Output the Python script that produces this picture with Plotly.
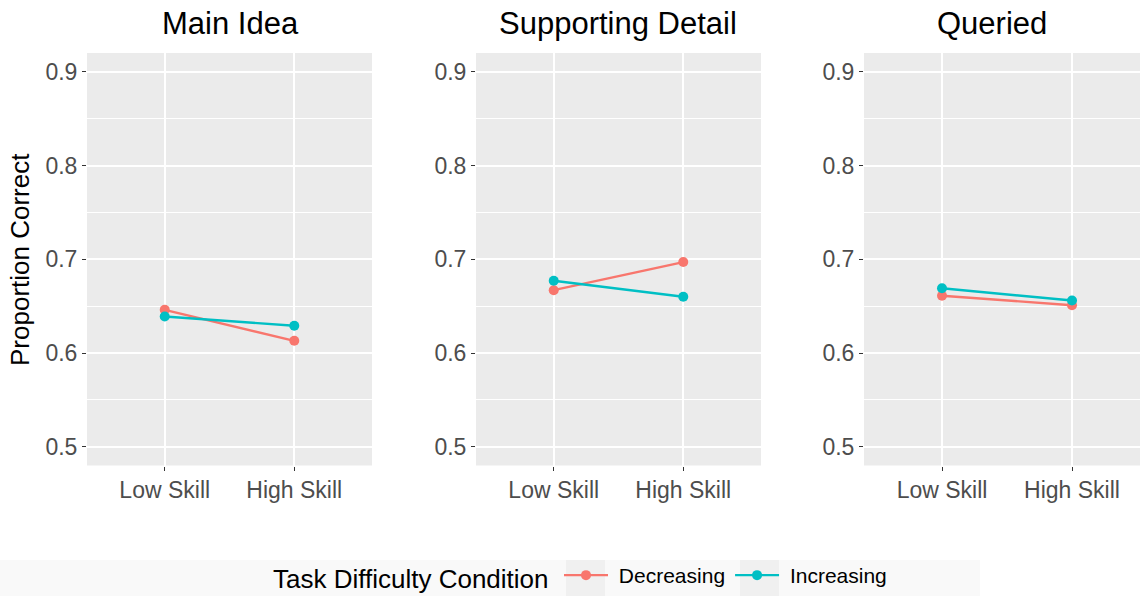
import plotly.graph_objects as go

W, H = 1140, 596

panels = ["Main Idea", "Supporting Detail", "Queried"]
skill = ["Low Skill", "High Skill"]
conditions = ["Decreasing", "Increasing"]
decreasing = [[0.646, 0.613], [0.667, 0.697], [0.661, 0.651]]
increasing = [[0.639, 0.629], [0.677, 0.660], [0.669, 0.656]]
y_ticks = [0.5, 0.6, 0.7, 0.8, 0.9]
colors = {"Decreasing": "#F8766D", "Increasing": "#00BFC4"}
legend_title = "Task Difficulty Condition"

values = {"Decreasing": decreasing, "Increasing": increasing}

fig = go.Figure()

# panel geometry in pixels
px_x = [(87, 372), (476, 761), (864, 1140)]
x_ranges = [[-0.6, 1.6], [-0.6, 1.6], [-0.6, 1.523]]
y_top, y_bot = 53, 465.5
title_cx = [230, 618, 992]

font_family = "Liberation Sans, Arial, sans-serif"

for i, name in enumerate(panels):
    sfx = "" if i == 0 else str(i + 1)
    for cond in conditions:
        fig.add_trace(go.Scatter(
            x=skill, y=values[cond][i], mode="lines+markers",
            name="\u00a0" + cond,
            legendgroup=cond, showlegend=(i == 0),
            line=dict(color=colors[cond], width=2.4),
            marker=dict(color=colors[cond], size=10),
            xaxis="x" + sfx, yaxis="y" + sfx,
        ))
    x0, x1 = px_x[i]
    fig.layout["xaxis" + sfx] = dict(
        domain=[x0 / W, x1 / W], anchor="y" + sfx, type="category",
        range=x_ranges[i], showgrid=True, gridcolor="white", gridwidth=1.6,
        zeroline=False, showline=False, ticks="outside", ticklen=4,
        tickcolor="#333333", tickwidth=1.2,
        tickfont=dict(size=23, color="#4d4d4d", family=font_family),
        categoryorder="array", categoryarray=skill,
    )
    fig.layout["yaxis" + sfx] = dict(
        domain=[1 - y_bot / H, 1 - y_top / H], anchor="x" + sfx,
        range=[0.48, 0.92], tickvals=y_ticks,
        ticktext=[f"{v:.1f}" for v in y_ticks],
        showgrid=True, gridcolor="white", gridwidth=1.6,
        minor=dict(dtick=0.05, tick0=0.5, showgrid=True, gridcolor="white",
                   gridwidth=0.8, ticks=""),
        zeroline=False, showline=False, ticks="outside", ticklen=4,
        tickcolor="#333333", tickwidth=1.2,
        tickfont=dict(size=23, color="#4d4d4d", family=font_family),
    )
    fig.add_annotation(text=name, x=title_cx[i] / W, y=1 - 24 / H,
                       xref="paper", yref="paper", showarrow=False,
                       xanchor="center", yanchor="middle",
                       font=dict(size=31, color="black", family=font_family))

fig.add_annotation(text="Proportion Correct", x=20 / W, y=1 - 260 / H,
                   xref="paper", yref="paper", showarrow=False, textangle=-90,
                   xanchor="center", yanchor="middle",
                   font=dict(size=26, color="black", family=font_family))

# legend band and key backgrounds
fig.add_shape(type="rect", xref="paper", yref="paper",
              x0=0, x1=980 / W, y0=0, y1=36 / H,
              fillcolor="#f9f9f9", line=dict(width=0), layer="below")
for kx in (566, 740):
    fig.add_shape(type="rect", xref="paper", yref="paper",
                  x0=kx / W, x1=(kx + 39) / W, y0=0, y1=36 / H,
                  fillcolor="#f0f0f0", line=dict(width=0), layer="below")

fig.add_annotation(text=legend_title, x=551 / W, y=17 / H,
                   xref="paper", yref="paper", showarrow=False,
                   xanchor="right", yanchor="middle",
                   font=dict(size=26, color="black", family=font_family))

fig.update_layout(
    width=W, height=H, autosize=False,
    margin=dict(l=0, r=0, t=0, b=0),
    paper_bgcolor="white", plot_bgcolor="#ebebeb",
    font=dict(family=font_family),
    legend=dict(orientation="h", x=559 / W, xanchor="left",
                y=0, yanchor="bottom",
                bgcolor="rgba(0,0,0,0)",
                font=dict(size=21, color="black"),
                itemwidth=44),
)

fig.write_html(
    "out.html",
    config={"displayModeBar": False},
    post_script="document.body.style.margin='0px';document.body.style.overflow='hidden';",
)
